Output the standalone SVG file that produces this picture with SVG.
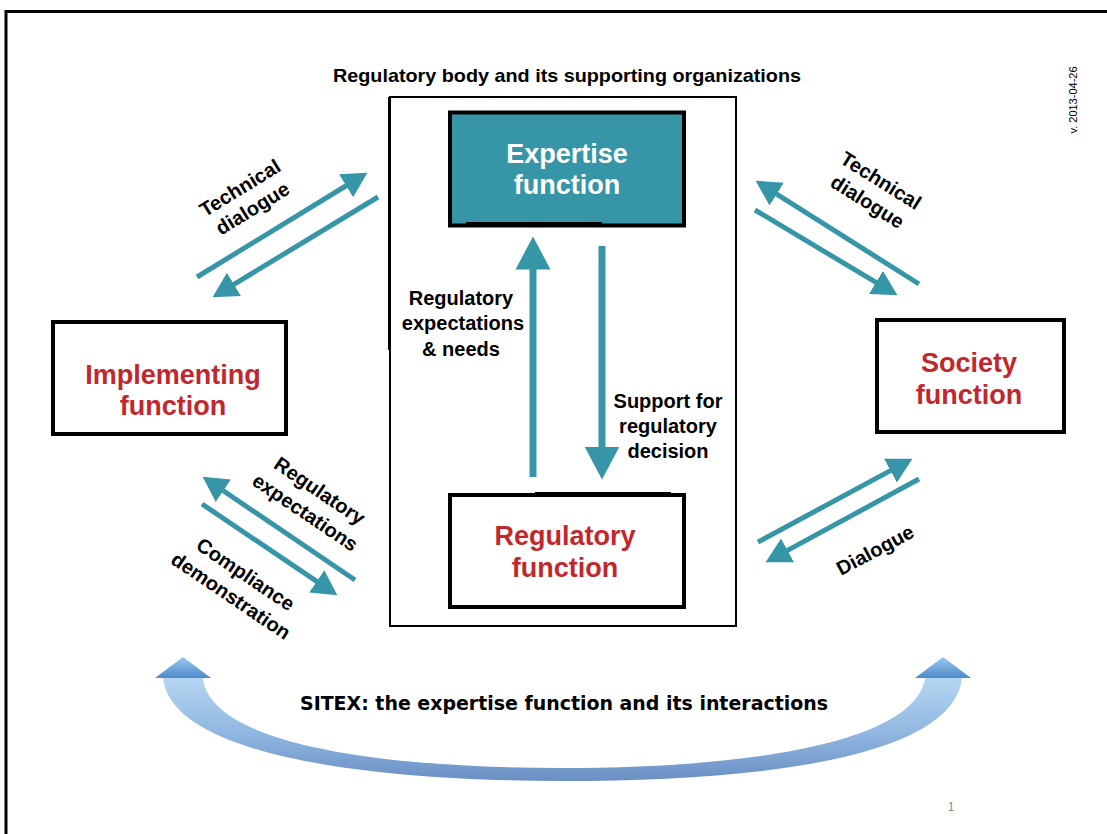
<svg xmlns="http://www.w3.org/2000/svg" width="1107" height="834" viewBox="0 0 1107 834">
<defs>
<style>
.lbl{font-family:"Liberation Sans",Arial,sans-serif;font-weight:bold;fill:#000;text-anchor:middle}
.node{font-family:"Liberation Sans",Arial,sans-serif;font-weight:bold;font-size:27px;text-anchor:middle}
.red{fill:#C1272D}
.box{fill:#fff;stroke:#000;stroke-width:4}
.conn{stroke:#3795A8;stroke-width:5;fill:none}
.vconn{stroke:#3795A8;stroke-width:7;fill:none}
</style>
<marker id="ah" markerUnits="userSpaceOnUse" markerWidth="26" markerHeight="30" viewBox="0 -15 26 30" refX="0.5" refY="0" orient="auto">
<path d="M0,-13.5 L25,0 L0,13.5 z" fill="#3795A8"/>
</marker>
<marker id="ahb" markerUnits="userSpaceOnUse" markerWidth="35" markerHeight="38" viewBox="0 -19 35 38" refX="0.5" refY="0" orient="auto">
<path d="M0,-17.5 L33,0 L0,17.5 z" fill="#3795A8"/>
</marker>
<linearGradient id="band" x1="0" y1="0" x2="0" y2="1">
<stop offset="0" stop-color="#b5d6f2"/>
<stop offset="0.55" stop-color="#8fb6e0"/>
<stop offset="1" stop-color="#6a8fc4"/>
</linearGradient>
<linearGradient id="head" x1="0" y1="0" x2="0" y2="1">
<stop offset="0" stop-color="#9ccaf0"/>
<stop offset="1" stop-color="#4d8ac8"/>
</linearGradient>
</defs>
<rect width="1107" height="834" fill="#fff"/>
<path d="M6,834 V11.5 H1107" fill="none" stroke="#000" stroke-width="3"/>

<g id="container">
<rect x="390" y="97" width="346" height="529" fill="none" stroke="#000" stroke-width="2"/>
<line x1="389.5" y1="97" x2="389.5" y2="350" stroke="#000" stroke-width="3"/>
<text class="lbl" x="567" y="82" font-size="19" textLength="468" lengthAdjust="spacingAndGlyphs">Regulatory body and its supporting organizations</text>
</g>

<g id="expertise">
<rect x="450" y="112.5" width="234" height="113" fill="#3795A8" stroke="#000" stroke-width="4"/>
<rect x="466" y="222" width="136" height="5" fill="#000"/>
<text class="node" x="567" y="163" fill="#fff">Expertise</text>
<text class="node" x="567" y="194" fill="#fff">function</text>
</g>

<g id="regulatory">
<rect class="box" x="450" y="495" width="234" height="112"/>
<rect x="535" y="492" width="136" height="5" fill="#000"/>
<text class="node red" x="565" y="545">Regulatory</text>
<text class="node red" x="565" y="577">function</text>
</g>

<g id="implementing">
<rect class="box" x="53" y="322" width="233" height="112"/>
<text class="node red" x="173" y="384">Implementing</text>
<text class="node red" x="173" y="415">function</text>
</g>

<g id="society">
<rect class="box" x="877" y="320" width="187" height="112"/>
<text class="node red" x="969" y="372">Society</text>
<text class="node red" x="969" y="404">function</text>
</g>

<g id="connectors">
<line class="vconn" x1="533" y1="477" x2="533" y2="269" marker-end="url(#ahb)"/>
<line class="vconn" x1="602" y1="246" x2="602" y2="447" marker-end="url(#ahb)"/>
<line class="conn" x1="197" y1="277" x2="346.5" y2="185.5" marker-end="url(#ah)"/>
<line class="conn" x1="378" y1="197" x2="233.5" y2="284.6" marker-end="url(#ah)"/>
<line class="conn" x1="919" y1="284" x2="776.3" y2="193.8" marker-end="url(#ah)"/>
<line class="conn" x1="755" y1="210" x2="876.4" y2="282.7" marker-end="url(#ah)"/>
<line class="conn" x1="355" y1="580" x2="222.9" y2="490.5" marker-end="url(#ah)"/>
<line class="conn" x1="202" y1="504" x2="317.1" y2="581.6" marker-end="url(#ah)"/>
<line class="conn" x1="758" y1="542" x2="890.9" y2="470.4" marker-end="url(#ah)"/>
<line class="conn" x1="919" y1="479" x2="787.1" y2="550.6" marker-end="url(#ah)"/>

<text class="lbl" font-size="20" x="461" y="305">Regulatory</text>
<text class="lbl" font-size="20" x="463" y="330">expectations</text>
<text class="lbl" font-size="20" x="461" y="356">&amp; needs</text>
<text class="lbl" font-size="20" x="668" y="408">Support for</text>
<text class="lbl" font-size="20" x="668" y="433">regulatory</text>
<text class="lbl" font-size="20" x="668" y="458">decision</text>

<g transform="translate(246.5,198.5) rotate(-31.5)">
<text class="lbl" font-size="20" x="0" y="-5.5">Technical</text>
<text class="lbl" font-size="20" x="0" y="18.5">dialogue</text>
</g>
<g transform="translate(874,191.5) rotate(32)">
<text class="lbl" font-size="20" x="0" y="-6">Technical</text>
<text class="lbl" font-size="20" x="0" y="19">dialogue</text>
</g>
<g transform="translate(312.5,501.5) rotate(34)">
<text class="lbl" font-size="20" x="0" y="-6">Regulatory</text>
<text class="lbl" font-size="20" x="0" y="20">expectations</text>
</g>
<g transform="translate(238.3,585) rotate(34)">
<text class="lbl" font-size="20" x="0" y="-6">Compliance</text>
<text class="lbl" font-size="20" x="0" y="20">demonstration</text>
</g>
<g transform="translate(875,550) rotate(-28)">
<text class="lbl" font-size="20" x="0" y="7">Dialogue</text>
</g>
</g>

<g id="sitex">
<path d="M163,678 C172,758 380,781 562,781 C760,781 953,758 962,678 L925,678 C916,740 760,768 562,768 C380,768 210,744 203,678 Z" fill="url(#band)"/>
<polygon points="183,657 155,678 211,678" fill="url(#head)"/>
<polygon points="943,657 915,678 971,678" fill="url(#head)"/>
<text x="564" y="710" font-family="'Liberation Sans Narrow','DejaVu Sans Condensed','Liberation Sans',sans-serif" font-weight="bold" font-size="19" text-anchor="middle" textLength="528" lengthAdjust="spacingAndGlyphs">SITEX: the expertise function and its interactions</text>
</g>

<text transform="translate(1077,100) rotate(-90)" font-family="'Liberation Sans',Arial,sans-serif" font-size="11" text-anchor="middle">v. 2013-04-26</text>
<text x="951" y="811" font-family="'Liberation Sans',Arial,sans-serif" font-size="12" fill="#888" text-anchor="middle">1</text>
</svg>
